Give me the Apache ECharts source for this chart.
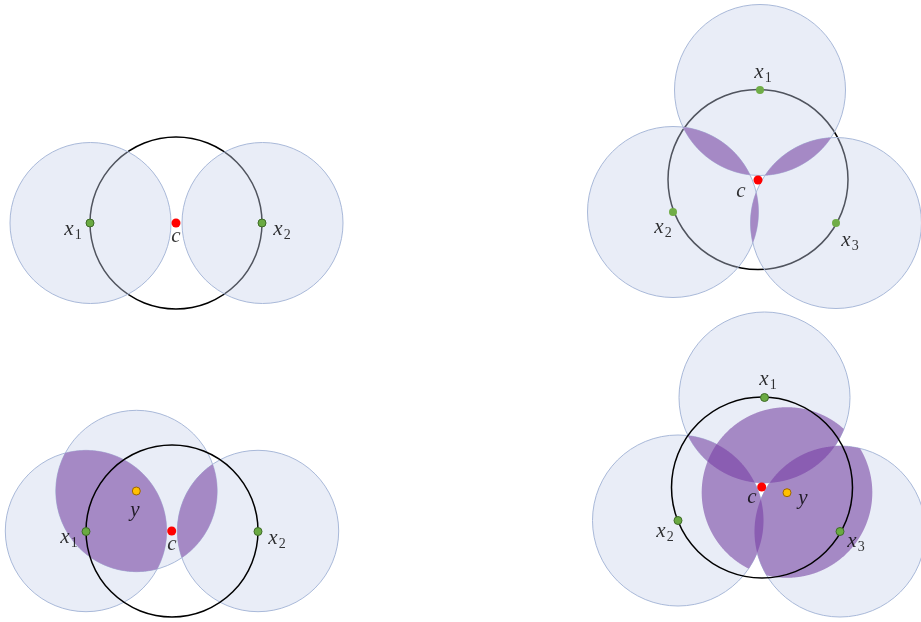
<!DOCTYPE html>
<html>
<head>
<meta charset="utf-8">
<script src="https://cdn.jsdelivr.net/npm/echarts@6/dist/echarts.min.js"></script>
<style>html,body{margin:0;padding:0;background:#fff}#main{width:921px;height:622px}</style>
</head>
<body>
<div id="main"></div>
<script>
// ---- data (diagram coordinates) ----
// circles: [cx, cy, r]
const circles = [
  [90.5, 223, 80.5],   // 0  panel 1, x1
  [262.5, 223, 80.5],  // 1  panel 1, x2
  [760, 90, 85.5],     // 2  panel 2, x1
  [673, 212, 85.5],    // 3  panel 2, x2
  [836, 223, 85.5],    // 4  panel 2, x3
  [86, 531, 80.7],     // 5  panel 3, x1
  [136.5, 491, 80.7],  // 6  panel 3, y
  [258, 531, 80.7],    // 7  panel 3, x2
  [764.5, 397.5, 85.5],// 8  panel 4, x1
  [678, 520.5, 85.5],  // 9  panel 4, x2
  [840, 531.5, 85.5],  // 10 panel 4, x3
  [787, 492.5, 85.3]   // 11 panel 4, y (purple only)
];
const blueDisks = [0, 1, 2, 3, 4, 5, 6, 7, 8, 9, 10];
const lightPurple = [[2, 3], [2, 4], [3, 4], [5, 6], [6, 7], [8, 9], [8, 10], [9, 10], [11, 8], [11, 9], [11, 10]];
const darkPurple = [[8, 9, 11], [8, 10, 11], [9, 10, 11]];
// black circles around c: [cx, cy, r]
const ringsBehind = [[176, 223, 86], [758, 179.5, 90]];
const ringsFront = [[172, 531, 86], [762, 487.5, 90.5]];
// points
const greenOutlined = [[90, 223], [262, 223], [86, 531.5], [258, 531.5], [764.5, 397.5], [678, 520.5], [840, 531.5]];
const greenPlain = [[760, 90], [673, 212], [836, 223]];
const redPoints = [[176, 223], [758, 180], [171.7, 531], [761.7, 487]];
const yellowPoints = [[136.3, 491], [787, 492.7]];
// labels: [x, y, symbol, subscript]
const labels = [
  [73, 229, 'x', '1'], [176, 236, 'c', ''], [282, 229, 'x', '2'],
  [763, 72, 'x', '1'], [741, 191, 'c', ''], [663, 227, 'x', '2'], [850, 240, 'x', '3'],
  [135, 510, 'y', ''], [69, 537, 'x', '1'], [172, 544, 'c', ''], [277, 538, 'x', '2'],
  [768, 379, 'x', '1'], [752, 497, 'c', ''], [803, 498, 'y', ''], [665, 531, 'x', '2'], [856, 541, 'x', '3']
];

// ---- geometry helper: intersection region of several circles ----
function intersection(idx) {
  const cs = idx.map(i => circles[i]);
  const pts = [];
  const N = 1440;
  cs.forEach((c, k) => {
    for (let t = 0; t < N; t++) {
      const a = t / N * 2 * Math.PI;
      const px = c[0] + c[2] * Math.cos(a), py = c[1] + c[2] * Math.sin(a);
      if (cs.every((o, m) => m === k || Math.hypot(px - o[0], py - o[1]) <= o[2] + 1e-6)) pts.push([px, py]);
    }
  });
  let mx = 0, my = 0;
  pts.forEach(p => { mx += p[0]; my += p[1]; });
  mx /= pts.length; my /= pts.length;
  pts.sort((p, q) => Math.atan2(p[1] - my, p[0] - mx) - Math.atan2(q[1] - my, q[0] - mx));
  return pts;
}

function circleRender(style) {
  return function (params, api) {
    const c = api.coord([api.value(0), api.value(1)]);
    const r = api.size([api.value(2), 0])[0];
    return { type: 'circle', shape: { cx: c[0], cy: c[1], r: r }, style: style };
  };
}
function regionRender(list, color) {
  return function (params, api) {
    const pts = intersection(list[params.dataIndex]).map(p => api.coord(p));
    return { type: 'polygon', shape: { points: pts }, style: { fill: color } };
  };
}

const serif = "'Liberation Serif', 'DejaVu Serif', serif";
const chart = echarts.init(document.getElementById('main'));
chart.setOption({
  backgroundColor: '#ffffff',
  animation: false,
  grid: { left: 0, right: 0, top: 0, bottom: 0 },
  xAxis: { type: 'value', min: 0, max: 921, show: false },
  yAxis: { type: 'value', min: 0, max: 622, inverse: true, show: false },
  series: [
    {
      type: 'custom', z: 1, coordinateSystem: 'cartesian2d',
      data: ringsBehind, encode: { x: 0, y: 1 },
      renderItem: circleRender({ fill: 'none', stroke: '#000', lineWidth: 1.5 })
    },
    {
      type: 'custom', z: 2, coordinateSystem: 'cartesian2d',
      data: blueDisks.map(i => circles[i]), encode: { x: 0, y: 1 },
      renderItem: circleRender({ fill: 'rgba(200,210,235,0.4)', stroke: '#A9B9D9', lineWidth: 1 })
    },
    {
      type: 'custom', z: 3, coordinateSystem: 'cartesian2d',
      data: lightPurple.map(p => [circles[p[0]][0], circles[p[0]][1]]), encode: { x: 0, y: 1 },
      renderItem: regionRender(lightPurple, '#A589C5')
    },
    {
      type: 'custom', z: 4, coordinateSystem: 'cartesian2d',
      data: darkPurple.map(p => [circles[p[0]][0], circles[p[0]][1]]), encode: { x: 0, y: 1 },
      renderItem: regionRender(darkPurple, '#8A5DB2')
    },
    {
      type: 'custom', z: 5, coordinateSystem: 'cartesian2d',
      data: ringsFront, encode: { x: 0, y: 1 },
      renderItem: circleRender({ fill: 'none', stroke: '#000', lineWidth: 1.5 })
    },
    {
      type: 'scatter', z: 6, data: greenOutlined, symbolSize: 8,
      itemStyle: { color: '#6AAA42', borderColor: '#3E6B27', borderWidth: 1, opacity: 1 }
    },
    {
      type: 'scatter', z: 6, data: greenPlain, symbolSize: 8,
      itemStyle: { color: '#70AD47', opacity: 1 }
    },
    {
      type: 'scatter', z: 6, data: redPoints, symbolSize: 9,
      itemStyle: { color: '#FF0000', opacity: 1 }
    },
    {
      type: 'scatter', z: 6, data: yellowPoints, symbolSize: 8,
      itemStyle: { color: '#FFC000', borderColor: '#9C6500', borderWidth: 1, opacity: 1 }
    },
    {
      type: 'scatter', z: 7, data: labels, symbolSize: 0, silent: true,
      label: {
        show: true, position: 'inside', align: 'center', verticalAlign: 'middle',
        formatter: p => p.data[3] ? '{v|' + p.data[2] + '}{s|' + p.data[3] + '}' : '{v|' + p.data[2] + '}',
        rich: {
          v: { fontFamily: serif, fontStyle: 'italic', fontSize: 21, color: '#000' },
          s: { fontFamily: serif, fontSize: 14, color: '#000', padding: [12, 0, 0, 1] }
        }
      }
    }
  ]
});
</script>
</body>
</html>
